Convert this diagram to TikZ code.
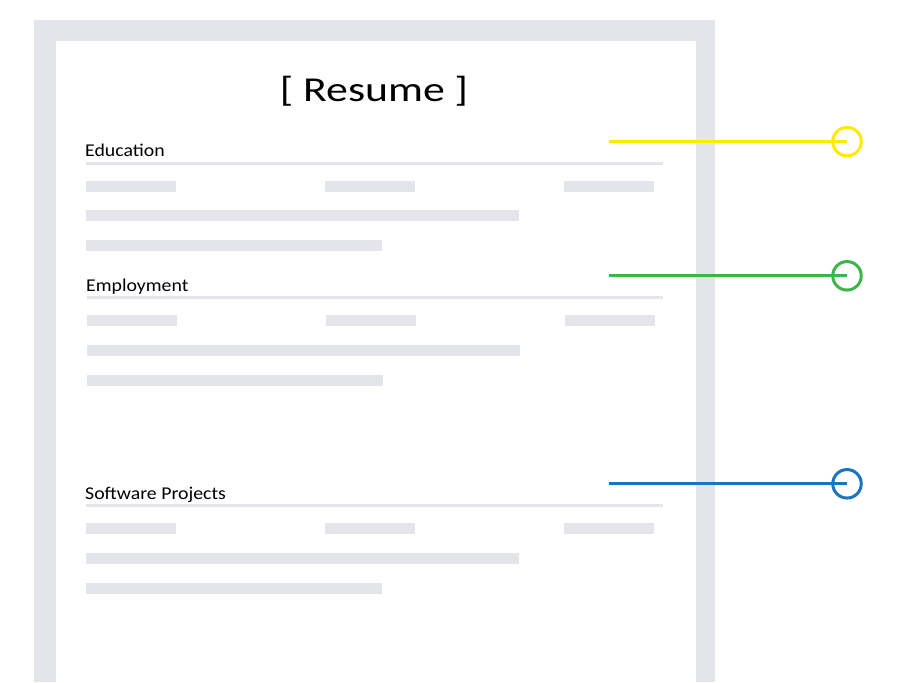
\documentclass[tikz,border=0pt]{standalone}
\usepackage{fontspec}
\setmainfont{Carlito}
\newfontfamily\titleFont[FakeStretch=1.25]{Carlito}
\newfontfamily\headingFont[FakeStretch=1.1]{Carlito}

\definecolor{pageGray}{HTML}{E4E5EA}
\definecolor{markYellow}{HTML}{FFEA00}
\definecolor{markGreen}{HTML}{3DB54A}
\definecolor{markBlue}{HTML}{1C75BC}

\def\barHeight{11}
\def\shortBar{90}
\def\markX{847}
\def\lineStart{609}

\tikzset{
  heading/.style={anchor=base west,inner sep=0pt,font=\headingFont\fontsize{18}{22}\selectfont},
  marker/.style={circle,line width=3pt,minimum size=28.5pt,inner sep=0pt,fill=white},
}

\begin{document}
\begin{tikzpicture}[x=1pt,y=-1pt]
    \useasboundingbox (0,0) rectangle (912,682);

    \fill[pageGray] (34,20) rectangle (715,682);
    \fill[white] (56,41) rectangle (696,682);
    \node[anchor=base,inner sep=0pt,font=\titleFont\fontsize{35}{42}\selectfont] (title) at (374,101.7) {[ Resume ]};

    \foreach \s/\t/\y/\dx/\c in {edu/Education/163.3/0/markYellow,emp/Employment/297.5/1/markGreen,soft/Software Projects/505.5/0/markBlue} {
      \node[heading] (\s) at (85+\dx,\y-6.5) {\t};
      \fill[pageGray] (86+\dx,\y-1.5) rectangle (663,\y+1.5);
      \foreach \x in {86,325,564} {
        \fill[pageGray] (\x+\dx,\y+17.5) rectangle ++(\shortBar,\barHeight);
      }
      \fill[pageGray] (86+\dx,\y+47) rectangle ++(433,\barHeight);
      \fill[pageGray] (86+\dx,\y+77) rectangle ++(296,\barHeight);
      \coordinate (\s-start) at (\lineStart,\y-21.7);
      \node[marker,draw=\c] (\s-mark) at (\markX,\y-21.7) {};
      \draw[\c,line width=3pt] (\s-start) -- (\s-mark.center);
    }
  \end{tikzpicture}
\end{document}
